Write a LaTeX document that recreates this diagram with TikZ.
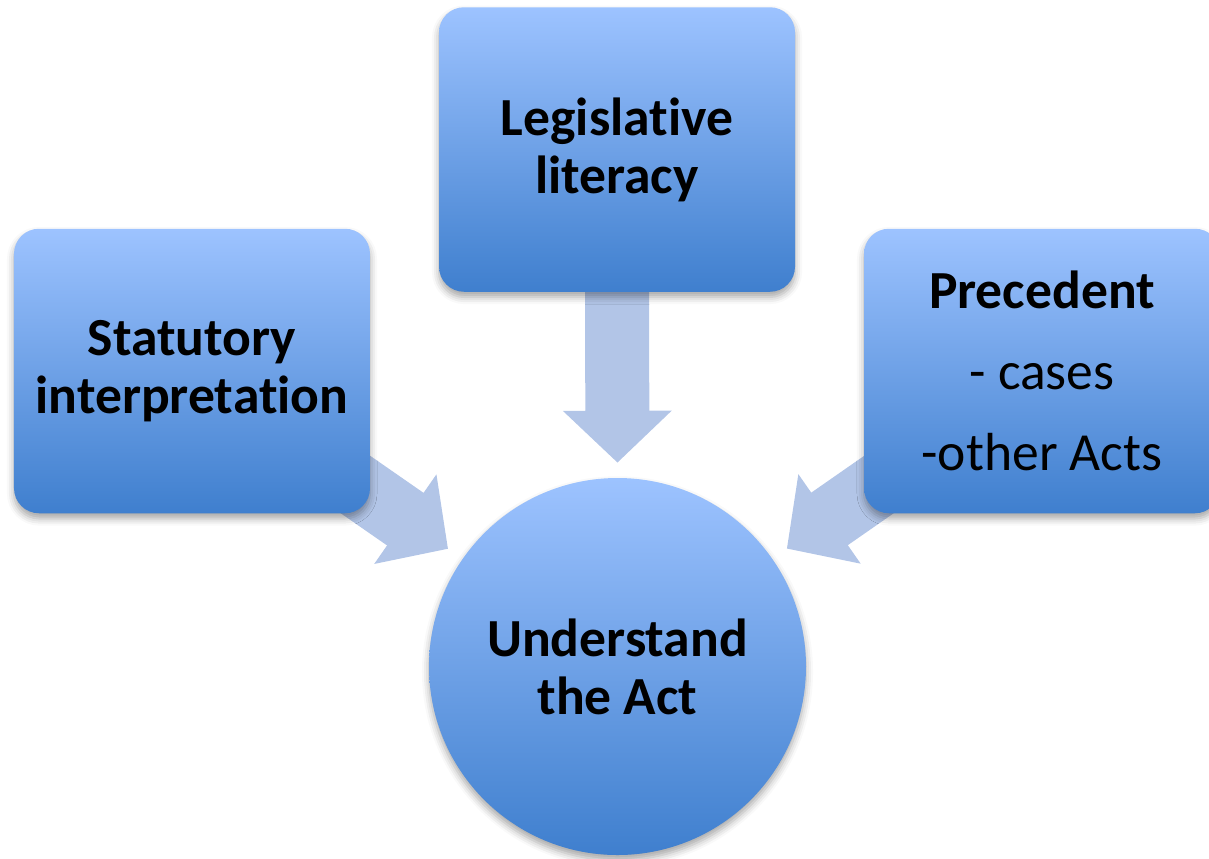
\documentclass[tikz,border=0pt]{standalone}
\usepackage{fontspec}
\setmainfont{Carlito}[Ligatures=NoCommon]
\usetikzlibrary{arrows.meta,shadows.blur}
\definecolor{boxtop}{RGB}{157,195,255}
\definecolor{boxbot}{RGB}{63,127,206}
\definecolor{arrowc}{RGB}{178,197,231}
\pgfdeclarelayer{background}
\pgfsetlayers{background,main}
\tikzset{
  box/.style={rectangle, rounded corners=0.5cm, minimum width=7.12cm, minimum height=5.69cm,
    top color=boxtop, bottom color=boxbot, align=center,
    font=\fontsize{30.5}{33}\selectfont,
    blur shadow={shadow xshift=0pt, shadow yshift=-3pt, shadow blur radius=4pt, shadow opacity=35}},
  hub/.style={box, circle, minimum size=7.54cm, inner sep=0pt},
  flowarrow/.style={draw=arrowc, line width=1.28cm, -{Triangle[length=1.04cm,width=2.12cm]}}
}
\begin{document}
\begin{tikzpicture}
    \useasboundingbox (0,0) rectangle (24.18,-17.16);
    \node[box] (legis) at (12.34,-2.99) {\bfseries Legislative\\ \bfseries literacy};
    \node[box] (stat) at (3.84,-7.42) {\bfseries Statutory\\ \bfseries interpretation};
    \node[box] (prec) at (20.84,-7.42) {\textbf{Precedent}\\[13pt]- cases\\[13pt]-other Acts};
    \node[hub] (act) at (12.35,-13.33) {\bfseries Understand\\ \bfseries the Act};
    \begin{pgfonlayer}{background}
    \draw[flowarrow, shorten >=0.3cm] (legis.south) -- (act.north);
    \draw[flowarrow, shorten >=0.35cm] (stat.center) -- (act);
    \draw[flowarrow, shorten >=0.35cm] (prec.center) -- (act);
    \end{pgfonlayer}
  \end{tikzpicture}
\end{document}
